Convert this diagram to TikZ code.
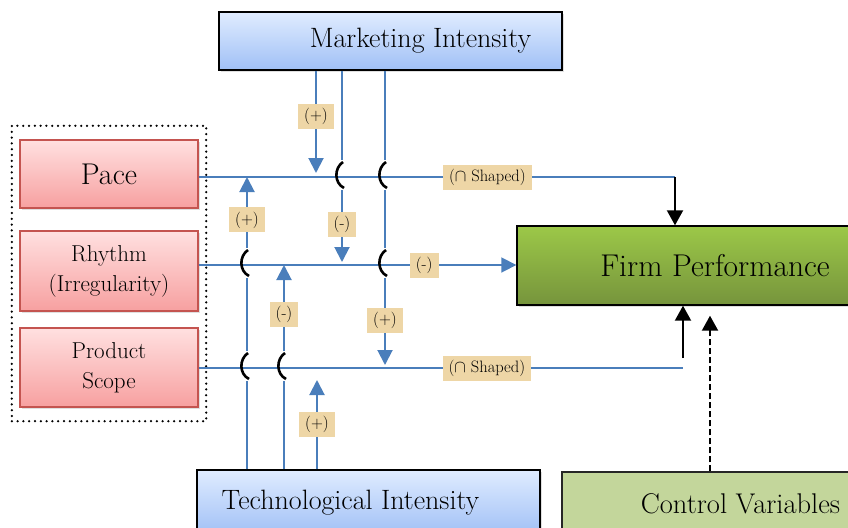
\documentclass[tikz,border=0pt]{standalone}
\usepackage{amsmath}
\usepackage{xcolor}
\usepackage{tikz}
\usetikzlibrary{arrows.meta,shadows,fit}

\definecolor{linkblue}{RGB}{74,126,187}
\definecolor{tagfill}{RGB}{238,214,166}
\definecolor{pinktop}{RGB}{255,224,224}
\definecolor{pinkbot}{RGB}{247,160,160}
\definecolor{pinkline}{RGB}{196,84,80}
\definecolor{bluetop}{RGB}{224,236,255}
\definecolor{bluebot}{RGB}{160,192,246}
\definecolor{greentop}{RGB}{156,200,72}
\definecolor{greenbot}{RGB}{118,148,60}
\definecolor{ctrlfill}{RGB}{195,214,155}

\tikzset{
	box/.style={draw, line width=1.4pt, drop shadow={shadow xshift=2pt, shadow yshift=-2pt, opacity=0.25}},
	dimbox/.style={box, draw=pinkline, top color=pinktop, bottom color=pinkbot, minimum width=178pt, align=center, font=\fontsize{23}{30}\selectfont},
	intbox/.style={box, top color=bluetop, bottom color=bluebot, minimum width=343pt, minimum height=58pt, font=\fontsize{28}{32}\selectfont},
	perfbox/.style={box, top color=greentop, bottom color=greenbot, minimum width=349pt, minimum height=79pt, font=\fontsize{31.5}{36}\selectfont},
	ctrlbox/.style={box, draw=black!85, fill=ctrlfill, minimum width=308pt, minimum height=63pt, font=\fontsize{28.5}{32}\selectfont},
	frame/.style={draw, line width=2.5pt, line cap=round, dash pattern=on 0pt off 5.8pt},
	link/.style={draw=linkblue, line width=1.4pt},
	vtip/.style={line width=2pt, -{Triangle[length=15pt,width=15pt]}},
	dep/.style={draw=black, line width=2pt, -{Triangle[length=15pt,width=16pt]}},
	tag/.style={fill=tagfill, inner xsep=6pt, inner ysep=3pt, minimum height=25pt, font=\fontsize{16.5}{18}\selectfont},
	hop/.pic={
		\fill[white] (-2.6,-17) rectangle (2.6,13);
		\draw[link] (-3,0) -- (3,0);
		\draw[black, line width=2.6pt] (1,-15) .. controls (-8,-9) and (-8,6) .. (2,11);
	}
}

\begin{document}
\begin{tikzpicture}[x=1pt,y=-1pt]
	\useasboundingbox (0,0) rectangle (848,527);
	% rows and columns of the links
	\coordinate (rowP) at (0,177);
	\coordinate (rowR) at (0,265);
	\coordinate (rowS) at (0,368);
	\coordinate (m1) at (316,0);
	\coordinate (m2) at (342,0);
	\coordinate (m3) at (385,0);
	\coordinate (t1) at (247,0);
	\coordinate (t2) at (284,0);
	\coordinate (t3) at (317,0);
	\coordinate (fpin) at (675,0);
	\coordinate (fpout) at (683,358);
	\coordinate (ctl) at (710,0);

	\node[dimbox, minimum height=68pt, font=\fontsize{30}{32}\selectfont] (pace) at (109,174) {Pace};
	\node[dimbox, minimum height=80pt] (rhythm) at (109,271) {Rhythm\\(Irregularity)};
	\node[dimbox, minimum height=79pt] (scope) at (109,367.5) {Product\\Scope};
	\node[frame, fit=(pace)(scope), inner xsep=7.5pt, inner ysep=13.5pt] (dims) {};

	\node[intbox] (mkt) at (390.5,41) {\hspace*{60pt}Marketing Intensity};
	\node[intbox, minimum height=65pt] (tech) at (368.5,502.5) {Technological Intensity\hspace*{36pt}};
	\node[perfbox] (fp) at (691.5,265.5) {\hspace*{47pt}Firm Performance};
	\node[ctrlbox] (ctrl) at (716,503.5) {\hspace*{49pt}Control Variables};

	% main effects
	\draw[link] (pace.east |- rowP) -- node[tag, pos=0.606] {($\cap$ Shaped)} (fpin |- rowP);
	\draw[dep] (fpin |- rowP) -- (fp.north -| fpin);
	\draw[link, line width=1.8pt, -{Triangle[length=15pt,width=15pt]}] (rhythm.east |- rowR) -- node[tag, pos=0.71] {(-)} (fp.west |- rowR);
	\draw[link] (scope.east |- rowS) -- node[tag, pos=0.595] {($\cap$ Shaped)} (fpout |- rowS);
	\draw[dep] (fpout) -- (fp.south -| fpout);
	\draw[dep, dashed, dash pattern=on 6pt off 3pt, shorten >=10pt] (ctrl.north -| ctl) -- (fp.south -| ctl);

	% moderators
	\draw[link, vtip, shorten >=4pt] (mkt.south -| m1) -- node[tag, pos=0.43] {(+)} (m1 |- rowP);
	\draw[link, vtip, shorten >=3pt] (mkt.south -| m2) -- node[tag, pos=0.79] {(-)} (m2 |- rowR);
	\draw[link, vtip, shorten >=3pt] (mkt.south -| m3) -- node[tag, pos=0.84] {(+)} (m3 |- rowS);
	\draw[link, vtip] (tech.north -| t1) -- node[tag, pos=0.853] {(+)} (t1 |- rowP);
	\draw[link, vtip] (tech.north -| t2) -- node[tag, pos=0.76] {(-)} (t2 |- rowR);
	\draw[link, vtip, shorten >=12pt] (tech.north -| t3) -- node[tag, pos=0.44] {(+)} (t3 |- rowS);

	\foreach \c/\r in {m2/rowP, m3/rowP, m3/rowR, t1/rowR, t1/rowS, t2/rowS}
		\pic at (\c |- \r) {hop};
\end{tikzpicture}
\end{document}
